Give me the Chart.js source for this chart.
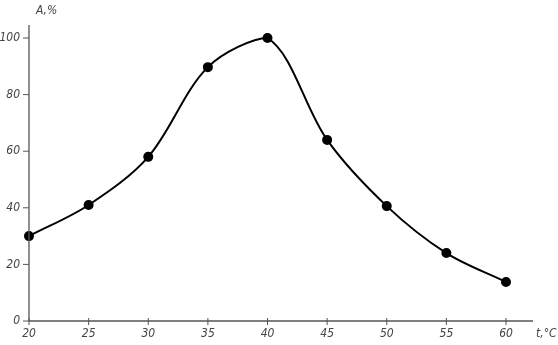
<!DOCTYPE html>
<html>
<head>
<meta charset="utf-8">
<script src="https://cdn.jsdelivr.net/npm/chart.js@4"></script>
<style>
    html, body { margin: 0; padding: 0; background: #fff; }
    #wrap { width: 558px; height: 345px; }
</style>
</head>
<body>
<div id="wrap"><canvas id="chart" width="558" height="345"></canvas></div>
<script>
// temperature, °C
const temperatures = [20, 25, 30, 35, 40, 45, 50, 55, 60];
// activity, %
const activity = [30, 41, 58, 89.7, 100, 64, 40.6, 24, 13.8];

const xTicks = [20, 25, 30, 35, 40, 45, 50, 55, 60];
const yTicks = [0, 20, 40, 60, 80, 100];

const axisColor = '#555';
const labelFont = { family: "'DejaVu Sans Condensed', 'Liberation Sans Narrow', sans-serif", size: 12, style: 'italic' };

// axes with extensions and small tick marks, drawn by hand
const axesPlugin = {
    id: 'axes',
    afterDraw(chart) {
        const ctx = chart.ctx;
        const area = chart.chartArea;
        const x = chart.scales.x;
        const y = chart.scales.y;
        ctx.save();
        ctx.strokeStyle = axisColor;
        ctx.lineWidth = 1.3;
        ctx.beginPath();
        ctx.moveTo(area.left, 25);
        ctx.lineTo(area.left, area.bottom);
        ctx.lineTo(533, area.bottom);
        ctx.stroke();

        ctx.lineWidth = 1;
        ctx.beginPath();
        yTicks.forEach(v => {
            const py = y.getPixelForValue(v);
            ctx.moveTo(area.left - 6, py);
            ctx.lineTo(area.left, py);
        });
        xTicks.forEach(v => {
            const px = x.getPixelForValue(v);
            ctx.moveTo(px, area.bottom - 3);
            ctx.lineTo(px, area.bottom + 4);
        });
        ctx.stroke();

        ctx.fillStyle = '#444';
        ctx.font = 'italic 12px ' + labelFont.family;
        ctx.textBaseline = 'middle';
        ctx.textAlign = 'left';
        ctx.fillText('A,%', 36, 11);
        ctx.fillText('t,°C', 536, 334);
        ctx.restore();
    }
};

new Chart(document.getElementById('chart'), {
    type: 'line',
    data: {
        labels: temperatures,
        datasets: [{
            data: temperatures.map((t, i) => ({ x: t, y: activity[i] })),
            borderColor: '#000',
            backgroundColor: '#000',
            borderWidth: 2,
            tension: 0.33,
            pointRadius: 4,
            pointHoverRadius: 4,
            fill: false,
            clip: false
        }]
    },
    options: {
        responsive: false,
        animation: false,
        events: [],
        layout: { padding: { left: 0, top: 38, right: 52, bottom: 0 } },
        plugins: {
            legend: { display: false },
            tooltip: { enabled: false }
        },
        scales: {
            x: {
                type: 'linear',
                min: 20,
                max: 60,
                afterFit: s => { s.height = 24; },
                afterBuildTicks: s => { s.ticks = xTicks.map(v => ({ value: v })); },
                grid: { display: false, drawTicks: false },
                border: { display: false },
                ticks: { color: '#444', font: labelFont, padding: 6, maxRotation: 0 }
            },
            y: {
                min: 0,
                max: 100,
                afterFit: s => { s.width = 29; },
                afterBuildTicks: s => { s.ticks = yTicks.map(v => ({ value: v })); },
                grid: { display: false, drawTicks: false },
                border: { display: false },
                ticks: { color: '#444', font: labelFont, padding: 9 }
            }
        }
    },
    plugins: [axesPlugin]
});
</script>
</body>
</html>
